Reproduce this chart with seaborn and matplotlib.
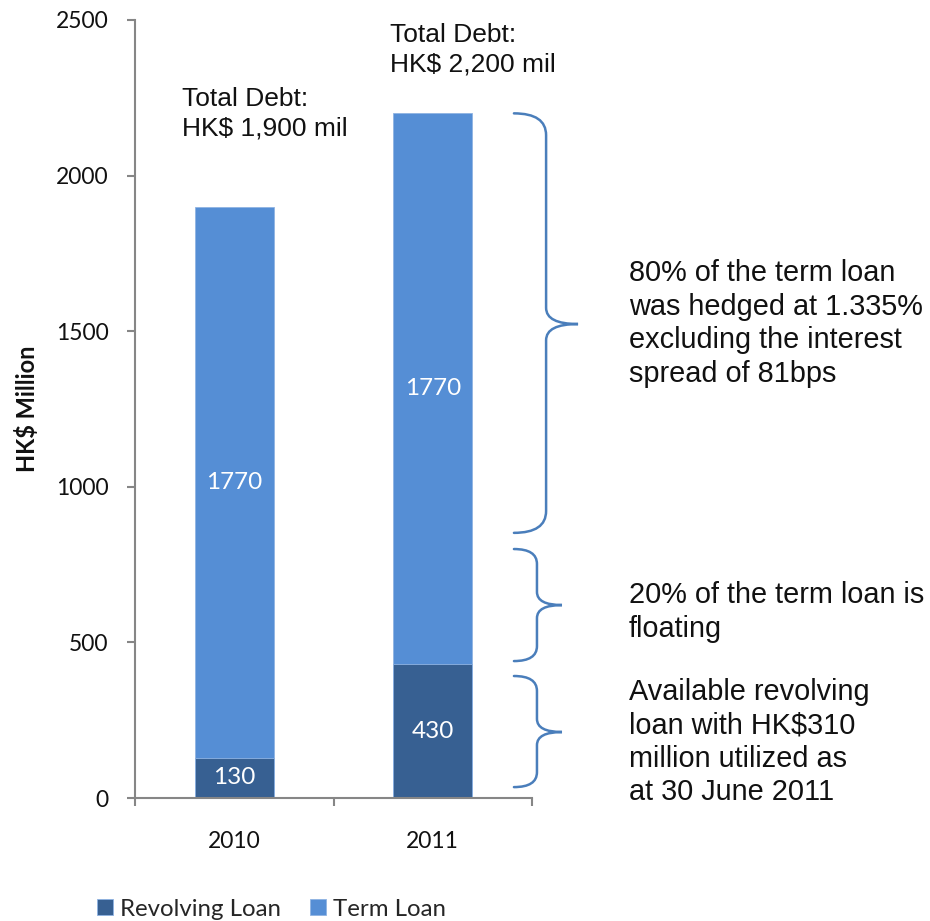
import numpy as np
import pandas as pd
import matplotlib
matplotlib.use("Agg")
import matplotlib.pyplot as plt
from matplotlib.path import Path
from matplotlib.patches import PathPatch
from matplotlib.ticker import FixedLocator
import seaborn as sns

# ---- data -------------------------------------------------------------
years = ["2010", "2011"]
revolving = [130, 430]
term = [1770, 1770]
series_names = ["Revolving Loan", "Term Loan"]
y_ticks = [0, 500, 1000, 1500, 2000, 2500]

# notes attached to the 2011 bar: (top, bottom, tip) of each brace and its text
brace_spans = [(2200, 852, 1523), (800, 440, 620), (392, 35, 212)]
brace_notes = [
    "80% of the term loan\nwas hedged at 1.335%\nexcluding the interest\nspread of 81bps",
    "20% of the term loan is\nfloating",
    "Available revolving\nloan with HK$310\nmillion utilized as\nat 30 June 2011",
]

# ---- styling ----------------------------------------------------------
sns.set_theme(style="white")
plt.rcParams["font.family"] = ["Lato", "DejaVu Sans"]

dark_blue = "#376092"
light_blue = "#558ED5"
brace_blue = "#4A7EBB"
axis_grey = "#868686"
ink = "#111111"
arial = ["Liberation Sans", "DejaVu Sans"]

df = pd.DataFrame({"year": years, "revolving": revolving, "term": term})
df["total"] = df["revolving"] + df["term"]

fig = plt.figure(figsize=(9.30, 9.21), dpi=100)
ax = fig.add_axes([135 / 930, 1 - 798 / 921, 397 / 930, 778 / 921])

# stacked bars: full total in the term colour, revolving part drawn over it
sns.barplot(data=df, x="year", y="total", color=light_blue, width=0.4,
            saturation=1, ax=ax, label=series_names[1],
            edgecolor="#8fb3e3", linewidth=0.6)
sns.barplot(data=df, x="year", y="revolving", color=dark_blue, width=0.4,
            saturation=1, ax=ax, label=series_names[0],
            edgecolor="#8fb3e3", linewidth=0.6)
handles, labels = ax.get_legend_handles_labels()
if ax.get_legend() is not None:
    ax.get_legend().remove()

ax.set_xlim(-0.5, 1.5)
ax.set_ylim(0, 2500)
ax.set_xlabel("")
ax.set_ylabel("HK$ Million", fontsize=17, fontweight="bold", color=ink)
ax.yaxis.set_label_coords(-96 / 397, 0.5)

ax.yaxis.set_major_locator(FixedLocator(y_ticks))
ax.set_yticklabels([str(t) for t in y_ticks])
ax.xaxis.set_minor_locator(FixedLocator([-0.5, 0.5, 1.5]))
ax.tick_params(axis="y", which="major", direction="out", length=6, width=1.5,
               color=axis_grey, labelsize=16.5, labelcolor=ink, pad=13,
               left=True)
ax.tick_params(axis="x", which="major", length=0, labelsize=16.5,
               labelcolor=ink, pad=24)
ax.tick_params(axis="x", which="minor", direction="out", length=6, width=1.5,
               color=axis_grey, bottom=True)

for side in ["top", "right"]:
    ax.spines[side].set_visible(False)
for side in ["left", "bottom"]:
    ax.spines[side].set_color(axis_grey)
    ax.spines[side].set_linewidth(1.5)

# segment value labels
for i, row in df.iterrows():
    ax.text(i, row["revolving"] / 2, f"{row['revolving']}", ha="center",
            va="center", color="white", fontsize=17.5)
    ax.text(i, row["revolving"] + row["term"] / 2, f"{row['term']}",
            ha="center", va="center", color="white", fontsize=17.5)

# total debt captions above the bars
caption_pos = [(-0.263, 2199), (0.785, 2404)]
for (cx, cy), tot in zip(caption_pos, df["total"]):
    ax.text(cx, cy, f"Total Debt:\nHK$ {tot:,} mil", ha="left", va="center",
            fontsize=19, family=arial, linespacing=1.3, color=ink)


def curly_brace(ax, x_end, x_stem, x_tip, y_top, y_bot, y_tip, r_end, r_tip):
    verts = [
        (x_end, y_top),
        (x_stem, y_top), (x_stem, y_top - r_end),
        (x_stem, y_tip + r_tip),
        (x_stem, y_tip), (x_tip, y_tip),
        (x_stem, y_tip), (x_stem, y_tip - r_tip),
        (x_stem, y_bot + r_end),
        (x_stem, y_bot), (x_end, y_bot),
    ]
    codes = [Path.MOVETO,
             Path.CURVE3, Path.CURVE3,
             Path.LINETO,
             Path.CURVE3, Path.CURVE3,
             Path.CURVE3, Path.CURVE3,
             Path.LINETO,
             Path.CURVE3, Path.CURVE3]
    patch = PathPatch(Path(verts, codes), fill=False, edgecolor=brace_blue,
                      linewidth=1.8, clip_on=False, capstyle="round")
    ax.add_patch(patch)


brace_x = [(1.409, 1.571, 1.732, 70, 52), (1.409, 1.525, 1.651, 48, 42),
           (1.409, 1.525, 1.651, 48, 42)]
note_y = [1525, 597, 180]
for (top, bot, tip), (xe, xs, xt, re, rt), note, ny in zip(
        brace_spans, brace_x, brace_notes, note_y):
    curly_brace(ax, xe, xs, xt, top, bot, tip, re, rt)
    ax.text(1.989, ny, note, ha="left", va="center", fontsize=20.8,
            family=arial, linespacing=1.25, color=ink, clip_on=False)

# legend along the bottom
order = [labels.index(n) for n in series_names]
fig.legend([handles[k] for k in order], [labels[k] for k in order],
           loc="center", bbox_to_anchor=(0.292, 0.013), ncol=2,
           frameon=False, fontsize=17.3, handlelength=0.65,
           handleheight=0.65, handletextpad=0.3, columnspacing=1.2)

fig.savefig("out.png", dpi=100)
